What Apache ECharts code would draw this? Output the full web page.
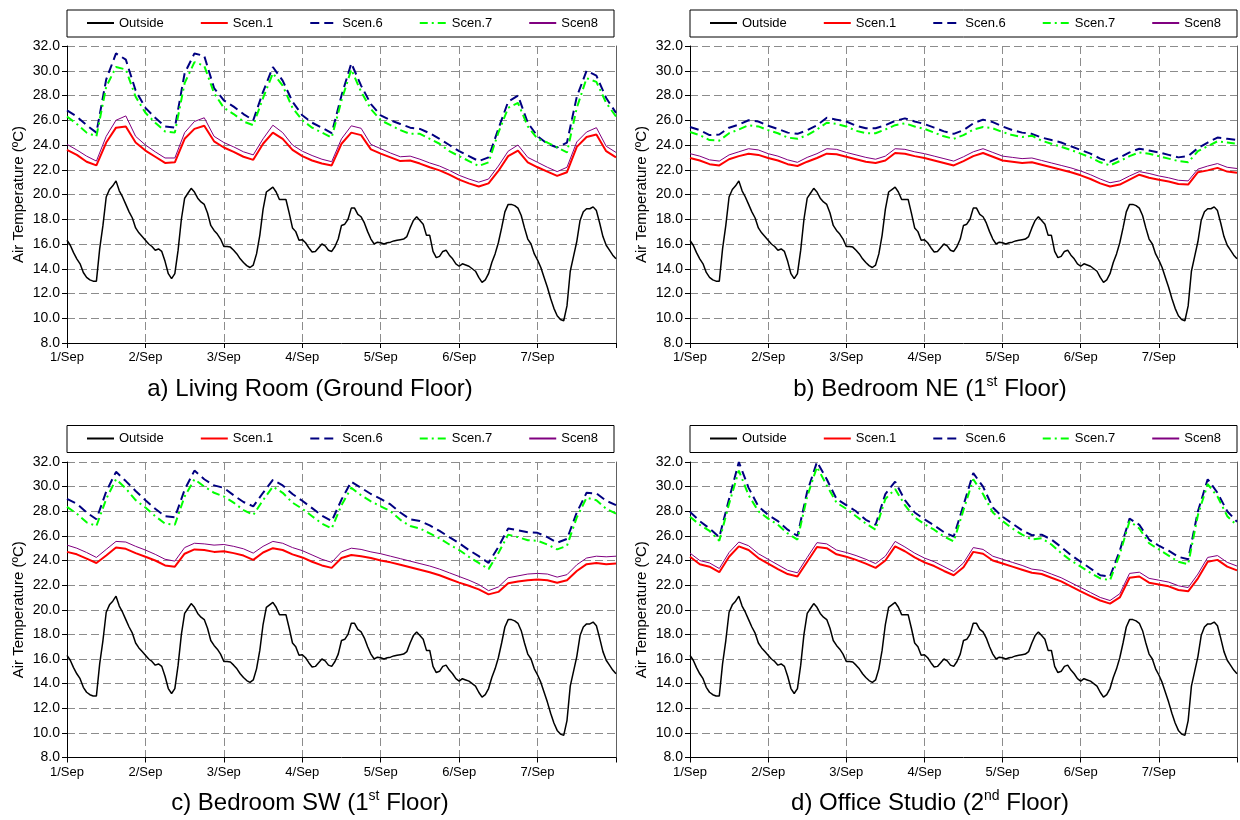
<!DOCTYPE html>
<html><head><meta charset="utf-8">
<script src="https://cdn.jsdelivr.net/npm/echarts@6/dist/echarts.min.js"></script>
<style>html,body{margin:0;padding:0;background:#fff}#chart{width:1240px;height:820px}</style>
</head><body><div id="chart"></div>
<script>
const tickLabels = ['1/Sep','2/Sep','3/Sep','4/Sep','5/Sep','6/Sep','7/Sep',''];
const seriesNames = ['Outside','Scen.1','Scen.6','Scen.7','Scen8'];
const yAxisName = 'Air Temperature (ºC)';
const outsideStepHours = 1;
const roomStepHours = 3;

const outside = [16.3,15.9,15.3,14.8,14.4,13.7,13.3,13.1,13.0,13.0,
15.6,17.5,19.8,20.4,20.7,21.1,20.3,19.8,19.2,18.6,
18.1,17.3,16.9,16.6,16.3,16.0,15.8,15.5,15.6,15.4,
14.6,13.6,13.2,13.6,15.5,18.0,19.7,20.1,20.5,20.2,
19.7,19.4,19.2,18.5,17.5,17.1,16.8,16.4,15.8,15.8,
15.75,15.5,15.2,14.8,14.5,14.25,14.1,14.3,15.2,16.7,
18.8,20.2,20.4,20.6,20.2,19.6,19.6,19.6,18.5,17.3,
17.0,16.3,16.35,16.1,15.7,15.35,15.4,15.7,16.0,15.85,
15.5,15.4,15.8,16.4,17.5,17.6,18.0,18.9,18.9,18.4,
18.2,17.7,17.0,16.4,16.0,16.15,16.1,16.0,16.1,16.15,
16.25,16.3,16.35,16.4,16.6,17.3,17.9,18.2,17.9,17.6,
16.7,16.7,15.4,14.9,15.0,15.4,15.5,15.1,14.8,14.4,
14.2,14.4,14.3,14.2,14.0,13.8,13.3,12.9,13.1,13.6,
14.5,15.2,16.1,17.3,18.6,19.2,19.2,19.1,18.9,18.3,
17.3,16.4,16.0,15.2,14.7,14.1,13.3,12.5,11.6,10.8,
10.2,9.9,9.8,11.0,13.8,15.0,16.2,17.9,18.6,18.85,
18.85,19.0,18.7,17.7,16.6,15.9,15.5,15.1,14.8];

// a) Living Room
const livingScen1 = [23.6,23.2,22.65,22.35,24.2,25.4,25.5,24.2,23.55,23.05,22.55,22.6,24.5,25.3,25.55,24.3,23.8,23.45,23.05,22.8,24.1,25.0,24.5,23.6,23.1,22.75,22.5,22.35,24.1,25.0,24.8,23.65,23.3,23.0,22.7,22.75,22.5,22.2,21.95,21.6,21.2,20.9,20.65,20.9,21.9,23.1,23.55,22.6,22.2,21.85,21.5,21.8,23.85,24.65,24.85,23.5,23.0];
const livingScen6 = [26.8,26.3,25.6,25.0,29.3,31.4,30.9,28.4,27.0,26.2,25.5,25.4,29.8,31.4,31.2,28.6,27.6,27.1,26.5,26.0,28.3,30.3,29.2,27.5,26.4,25.8,25.4,24.95,28.0,30.6,28.8,27.3,26.4,26.0,25.7,25.4,25.3,24.95,24.5,24.0,23.5,23.1,22.7,23.0,25.3,27.5,28.0,25.8,24.7,24.1,23.8,24.2,27.9,30.0,29.6,27.8,26.6];
const livingScen7 = [26.3,25.7,25.0,24.7,28.7,30.3,30.1,27.9,26.6,25.8,25.1,25.0,29.0,30.7,30.4,28.2,27.0,26.5,25.9,25.6,27.8,29.8,28.8,27.0,26.0,25.4,25.0,24.6,27.6,30.1,28.3,26.9,26.0,25.6,25.2,24.9,24.9,24.5,24.1,23.5,23.1,22.7,22.3,22.6,25.0,27.0,27.4,25.5,24.5,24.2,23.8,23.4,27.0,29.4,29.1,27.4,26.3];
const livingScen8 = [24.05,23.6,23.1,22.7,24.7,26.0,26.35,24.7,24.0,23.45,22.95,22.95,25.0,25.9,26.2,24.7,24.2,23.85,23.45,23.2,24.5,25.6,25.0,24.0,23.5,23.15,22.85,22.65,24.5,25.55,25.35,24.05,23.7,23.35,23.05,23.1,22.85,22.55,22.3,21.95,21.55,21.25,21.0,21.25,22.3,23.5,24.0,23.0,22.6,22.2,21.85,22.2,24.25,25.05,25.4,23.9,23.4];

// b) Bedroom NE
const bedNEScen1 = [22.95,22.75,22.45,22.35,22.85,23.1,23.3,23.2,22.95,22.75,22.45,22.3,22.65,22.95,23.3,23.25,23.05,22.85,22.65,22.55,22.75,23.35,23.3,23.1,22.95,22.75,22.55,22.35,22.7,23.1,23.35,23.05,22.75,22.65,22.55,22.6,22.4,22.2,22.0,21.8,21.55,21.25,20.9,20.65,20.8,21.2,21.6,21.35,21.2,21.05,20.85,20.8,21.8,21.95,22.15,21.85,21.75];
const bedNEScen6 = [25.45,25.2,24.8,24.85,25.4,25.65,26.0,25.9,25.55,25.3,25.0,24.9,25.2,25.6,26.2,26.05,25.9,25.55,25.35,25.35,25.6,25.95,26.15,25.9,25.7,25.4,25.1,24.9,25.2,25.75,26.05,25.85,25.5,25.2,25.0,24.9,24.6,24.4,24.2,23.9,23.6,23.3,22.9,22.65,23.0,23.4,23.7,23.55,23.4,23.2,23.0,23.1,23.75,24.2,24.6,24.5,24.4];
const bedNEScen7 = [25.05,24.8,24.4,24.35,24.95,25.25,25.6,25.5,25.2,24.95,24.6,24.5,24.8,25.25,25.8,25.7,25.5,25.15,24.95,24.95,25.25,25.6,25.75,25.5,25.3,25.0,24.7,24.5,24.8,25.25,25.45,25.35,25.05,24.8,24.65,24.75,24.35,24.1,23.85,23.6,23.3,23.0,22.6,22.35,22.7,23.1,23.4,23.3,23.1,22.9,22.7,22.6,23.5,23.9,24.3,24.2,24.1];
const bedNEScen8 = [23.3,23.1,22.8,22.7,23.2,23.45,23.7,23.6,23.3,23.1,22.8,22.6,23.0,23.3,23.7,23.65,23.4,23.2,23.0,22.85,23.1,23.7,23.65,23.45,23.3,23.1,22.9,22.7,23.05,23.45,23.7,23.4,23.1,23.0,22.9,22.95,22.75,22.55,22.35,22.15,21.9,21.6,21.25,20.95,21.1,21.5,21.85,21.7,21.5,21.35,21.15,21.1,22.05,22.3,22.5,22.2,22.1];

// c) Bedroom SW
const bedSWScen1 = [24.7,24.5,24.15,23.8,24.4,25.05,24.95,24.6,24.3,24.0,23.6,23.5,24.55,24.9,24.85,24.7,24.75,24.6,24.4,24.05,24.65,25.0,24.85,24.5,24.25,23.9,23.6,23.4,24.2,24.45,24.35,24.2,24.0,23.85,23.65,23.45,23.25,23.05,22.8,22.5,22.2,21.95,21.65,21.25,21.45,22.15,22.3,22.4,22.45,22.4,22.2,22.4,23.15,23.7,23.8,23.7,23.75];
const bedSWScen6 = [29.0,28.6,27.9,27.35,29.6,31.2,30.45,29.65,28.9,28.2,27.6,27.5,29.75,31.3,30.6,30.1,29.9,29.3,28.75,28.4,29.5,30.55,30.1,29.4,28.85,28.25,27.65,27.2,28.95,30.4,29.9,29.4,29.0,28.55,27.9,27.35,27.2,26.85,26.4,25.9,25.4,24.85,24.35,23.8,25.1,26.6,26.45,26.3,26.25,25.9,25.45,25.75,27.9,29.5,29.45,28.85,28.5];
const bedSWScen7 = [28.35,27.8,27.1,26.8,29.0,30.6,29.85,28.9,28.3,27.6,27.0,26.9,29.2,30.6,30.0,29.5,29.2,28.7,28.1,27.7,28.9,30.0,29.5,28.7,28.2,27.6,27.0,26.6,28.5,29.9,29.3,28.8,28.4,28.0,27.3,26.8,26.6,26.2,25.8,25.3,24.85,24.3,23.8,23.3,24.6,26.1,25.9,25.65,25.6,25.3,24.9,25.2,27.5,29.1,28.9,28.2,27.8];
const bedSWScen8 = [25.25,25.0,24.65,24.25,24.9,25.55,25.5,25.15,24.85,24.5,24.1,23.95,25.05,25.4,25.35,25.25,25.3,25.15,24.95,24.6,25.15,25.55,25.4,25.05,24.8,24.45,24.1,23.85,24.7,25.0,24.9,24.7,24.55,24.35,24.15,23.95,23.75,23.55,23.3,23.0,22.7,22.4,22.05,21.55,21.85,22.6,22.75,22.9,22.95,22.9,22.65,22.85,23.65,24.2,24.35,24.3,24.35];

// d) Office Studio
const officeScen1 = [24.3,23.7,23.5,23.05,24.3,25.15,24.85,24.2,23.75,23.3,22.9,22.7,23.9,25.1,25.0,24.5,24.3,24.05,23.75,23.4,24.0,25.15,24.75,24.25,23.85,23.55,23.15,22.8,23.45,24.7,24.55,24.0,23.75,23.5,23.25,23.0,22.9,22.6,22.3,21.9,21.5,21.1,20.75,20.5,21.0,22.6,22.7,22.2,22.05,21.9,21.6,21.5,22.55,23.9,24.05,23.5,23.2];
const officeScen6 = [27.95,27.2,26.6,25.9,29.0,32.0,29.9,28.4,27.7,27.2,26.5,26.0,29.6,32.0,30.6,29.0,28.5,28.0,27.3,26.9,29.4,30.4,28.9,27.9,27.35,26.85,26.3,25.95,28.5,31.1,30.0,28.3,27.55,27.0,26.45,26.05,26.1,25.7,25.1,24.45,23.9,23.35,22.8,22.7,24.8,27.4,26.9,25.7,25.2,24.8,24.3,24.1,28.0,30.6,29.5,28.0,27.15];
const officeScen7 = [27.55,26.9,26.4,25.6,28.6,31.3,29.3,28.0,27.4,26.9,26.2,25.7,29.2,31.6,30.1,28.7,28.2,27.6,27.0,26.5,29.0,29.8,28.5,27.5,26.95,26.5,25.95,25.55,28.1,30.6,29.4,27.9,27.2,26.6,26.1,25.7,25.8,25.3,24.6,24.0,23.5,23.0,22.55,22.4,24.5,27.2,26.6,25.4,24.9,24.4,23.9,23.7,27.7,30.2,29.2,27.6,26.85];
const officeScen8 = [24.6,24.0,23.8,23.35,24.65,25.5,25.2,24.55,24.1,23.65,23.2,23.0,24.25,25.45,25.35,24.85,24.65,24.4,24.1,23.75,24.35,25.55,25.1,24.6,24.2,23.9,23.5,23.1,23.8,25.05,24.9,24.35,24.1,23.85,23.6,23.3,23.2,22.9,22.6,22.2,21.8,21.4,21.0,20.75,21.3,22.95,23.05,22.55,22.4,22.25,21.95,21.8,22.9,24.25,24.4,23.85,23.55];

const panelTitles = [
  'a) Living Room (Ground Floor)',
  'b) Bedroom NE (1{sup|st} Floor)',
  'c) Bedroom SW (1{sup|st} Floor)',
  'd) Office Studio (2{sup|nd} Floor)'
];
const panelData = [
  [outside, livingScen1, livingScen6, livingScen7, livingScen8],
  [outside, bedNEScen1, bedNEScen6, bedNEScen7, bedNEScen8],
  [outside, bedSWScen1, bedSWScen6, bedSWScen7, bedSWScen8],
  [outside, officeScen1, officeScen6, officeScen7, officeScen8]
];

// layout (pixels)
const layout = [
  {left: 67, top: 46, width: 549, height: 297, legendTop: 10, titleX: 310, titleY: 389},
  {left: 690, top: 46, width: 549, height: 297, legendTop: 10, titleX: 930, titleY: 389},
  {left: 67, top: 462, width: 549, height: 295.5, legendTop: 425.5, titleX: 310, titleY: 803},
  {left: 690, top: 462, width: 549, height: 295.5, legendTop: 425.5, titleX: 930, titleY: 803}
];
const styles = [
  {color: '#000000', width: 1.5, type: 'solid'},
  {color: '#FF0000', width: 2, type: 'solid'},
  {color: '#000080', width: 2, type: [9, 5]},
  {color: '#00FF00', width: 2, type: [8, 4, 2, 4]},
  {color: '#800080', width: 1, type: 'solid'}
];
const FONT = 'Liberation Sans, Arial, sans-serif';
const gridDash = {color: '#8c8c8c', type: [8, 4], width: 1};

const grids = [], xAxes = [], yAxes = [], series = [], legends = [], graphics = [];
layout.forEach((L, p) => {
  grids.push({left: L.left, top: L.top, width: L.width, height: L.height, containLabel: false});
  xAxes.push({
    type: 'value', gridIndex: p, min: 0, max: 168, interval: 24,
    axisLine: {show: true, onZero: false, lineStyle: {color: '#000', width: 1}},
    axisTick: {show: true, length: 5, lineStyle: {color: '#000'}},
    axisLabel: {fontFamily: FONT, fontSize: 13, color: '#000', margin: 8,
      formatter: v => tickLabels[Math.round(v / 24)] || ''},
    splitLine: {show: true, lineStyle: gridDash}
  });
  yAxes.push({
    type: 'value', gridIndex: p, min: 8, max: 32, interval: 2, position: 'left',
    name: yAxisName, nameLocation: 'middle', nameRotate: 90, nameGap: 41,
    nameTextStyle: {fontFamily: FONT, fontSize: 15, color: '#000'},
    axisLine: {show: true, lineStyle: {color: '#000', width: 1}},
    axisTick: {show: true, length: 5, lineStyle: {color: '#000'}},
    axisLabel: {fontFamily: FONT, fontSize: 14, color: '#000', margin: 7,
      formatter: v => v.toFixed(1)},
    splitLine: {show: true, lineStyle: gridDash}
  });
  yAxes.push({
    type: 'value', gridIndex: p, min: 8, max: 32, interval: 2, position: 'right',
    axisLine: {show: true, lineStyle: {color: '#606060', width: 1}},
    axisTick: {show: false}, axisLabel: {show: false}, splitLine: {show: false}
  });
  panelData[p].forEach((arr, s) => {
    const step = s === 0 ? outsideStepHours : roomStepHours;
    series.push({
      type: 'line', name: seriesNames[s], xAxisIndex: p, yAxisIndex: p * 2,
      data: arr.map((v, k) => [k * step, v]),
      symbol: 'none', showSymbol: false, smooth: false, animation: false,
      lineStyle: {color: styles[s].color, width: styles[s].width, type: styles[s].type},
      itemStyle: {color: styles[s].color},
      z: 2 + s
    });
  });
  legends.push({
    data: seriesNames, left: L.left + 19, top: L.legendTop + 6.5, orient: 'horizontal',
    itemWidth: 27, itemHeight: 14, itemGap: 36, padding: 0, selectedMode: false,
    itemStyle: {color: 'rgba(0,0,0,0)', borderWidth: 0, borderColor: 'rgba(0,0,0,0)'},
    textStyle: {fontFamily: FONT, fontSize: 13, color: '#000'}
  });
  graphics.push({
    type: 'rect', shape: {x: L.left, y: L.legendTop, width: L.width - 2, height: 27},
    style: {fill: 'none', stroke: '#000', lineWidth: 1}, z: 0, silent: true
  });
  graphics.push({
    type: 'text', x: L.titleX, y: L.titleY, silent: true,
    style: {text: panelTitles[p], fontFamily: FONT, fontSize: 24, fill: '#000',
      align: 'center', verticalAlign: 'middle', lineHeight: 28,
      rich: {sup: {fontFamily: FONT, fontSize: 14, fill: '#000', verticalAlign: 'top', lineHeight: 13}}}
  });
});

const chart = echarts.init(document.getElementById('chart'), null, {renderer: 'canvas'});
chart.setOption({
  backgroundColor: '#fff', animation: false,
  grid: grids, xAxis: xAxes, yAxis: yAxes, series: series, legend: legends, graphic: graphics
});
</script></body></html>
